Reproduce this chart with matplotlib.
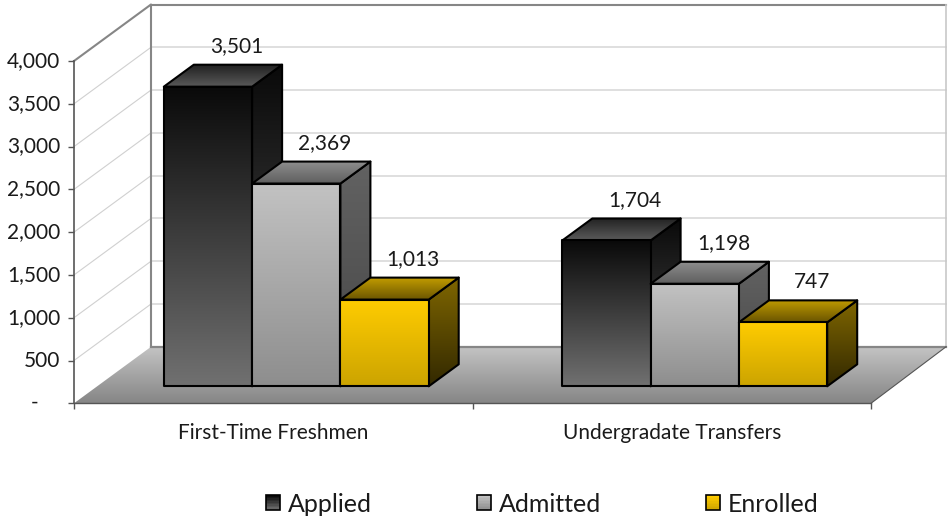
import numpy as np
import matplotlib
matplotlib.use('Agg')
import matplotlib.pyplot as plt
from matplotlib.colors import to_rgb
from matplotlib.legend_handler import HandlerBase
from matplotlib.patches import Polygon, Rectangle

# Data
categories = ['First-Time Freshmen', 'Undergradate Transfers']
series_names = ['Applied', 'Admitted', 'Enrolled']
applied = [3501, 1704]
admitted = [2369, 1198]
enrolled = [1013, 747]
y_ticks = [0, 500, 1000, 1500, 2000, 2500, 3000, 3500, 4000]
y_labels = ['-    ', '500', '1,000', '1,500', '2,000', '2,500', '3,000', '3,500', '4,000']

# (top, bottom) colours of each face
front_cols = [('#0a0a0a', '#707070'), ('#c2c2c2', '#8e8e8e'), ('#ffcc00', '#cca400')]
top_cols = [('#222222', '#5a5a5a'), ('#8c8c8c', '#5e5e5e'), ('#c09a00', '#6a5500')]
side_cols = [('#0a0a0a', '#505050'), ('#626262', '#464646'), ('#7f6600', '#332900')]

plt.rcParams['font.family'] = ['Lato', 'DejaVu Sans']
plt.rcParams['font.size'] = 15
TXT = '#1a1a1a'

W, H = 948, 519
fig = plt.figure(figsize=(W / 100, H / 100), dpi=100)
ax = fig.add_axes([74 / W, (H - 403.3) / H, 797 / W, 342.3 / H])
ax.patch.set_visible(False)
ax.set_autoscale_on(False)
ax.set_xlim(0, 2)
ax.set_ylim(0, 4000)

# pixel sizes in data units, the chart fakes its depth with these
PX = 2 / 797
PY = 4000 / 342.3
DX, DY = 77 * PX, 56.5 * PY
RIGHT = 2 + 75 * PX


def shade(ax, pts, c_top, c_bot, z):
    pts = np.array(pts)
    poly = Polygon(pts, closed=True, fc='none', ec='none', clip_on=False, zorder=z)
    ax.add_patch(poly)
    t = np.linspace(0, 1, 64)[:, None, None]
    img = (1 - t) * np.array(to_rgb(c_top)) + t * np.array(to_rgb(c_bot))
    ext = (pts[:, 0].min(), pts[:, 0].max(), pts[:, 1].min(), pts[:, 1].max())
    im = ax.imshow(img, extent=ext, aspect='auto', origin='upper', zorder=z,
                   interpolation='bilinear')
    im.set_clip_box(fig.bbox)
    im.set_clip_path(poly)


def outline(ax, pts, z, lw=1.5):
    ax.add_patch(Polygon(pts, closed=True, fc='none', ec='black', lw=lw,
                         joinstyle='round', clip_on=False, zorder=z))


# Walls
for v in y_ticks[1:-1]:
    ax.plot([DX, RIGHT], [v + DY, v + DY], color='#d9d9d9', lw=1.2, zorder=1, clip_on=False)
    ax.plot([0, DX], [v, v + DY], color='#d0d0d0', lw=0.8, zorder=1, clip_on=False)
ax.plot([0, DX, DX], [4000, 4000 + DY, DY], color='#868686', lw=1.5, zorder=1, clip_on=False)
ax.plot([DX, RIGHT], [4000 + DY, 4000 + DY], color='#868686', lw=1.5, zorder=1, clip_on=False)
ax.plot([RIGHT, RIGHT], [DY, 4000 + DY], color='#c8c8c8', lw=1.2, zorder=1, clip_on=False)

# Floor
floor = [(0, 0), (2, 0), (RIGHT, DY), (DX, DY)]
shade(ax, floor, '#c4c4c4', '#868686', 1.5)
ax.plot([DX, RIGHT], [DY, DY], color='#868686', lw=1.6, zorder=1.6, clip_on=False)
ax.plot([2, RIGHT], [0, DY], color='#555555', lw=0.8, zorder=1.6, clip_on=False)

# Bars
bar_w = 88.3 * PX
fx, fy = 23 * PX, 17 * PY   # front face offset from the floor edge
bx, by = 30 * PX, 22 * PY   # bar depth
z = 3
for s, vals in enumerate([applied, admitted, enrolled]):
    for c, v in enumerate(vals):
        x0 = c + 0.5 + fx + (s - 1.5) * bar_w
        x1 = x0 + bar_w
        y0, y1 = fy, v + fy
        front = [(x0, y0), (x1, y0), (x1, y1), (x0, y1)]
        top = [(x0, y1), (x1, y1), (x1 + bx, y1 + by), (x0 + bx, y1 + by)]
        side = [(x1, y0), (x1 + bx, y0 + by), (x1 + bx, y1 + by), (x1, y1)]
        shade(ax, side, side_cols[s][0], side_cols[s][1], z)
        outline(ax, side, z + 0.1)
        shade(ax, top, top_cols[s][0], top_cols[s][1], z + 0.2)
        outline(ax, top, z + 0.3)
        shade(ax, front, front_cols[s][0], front_cols[s][1], z + 0.4)
        outline(ax, front, z + 0.5)
        ax.annotate(f'{v:,}', (x0 + bar_w / 2 + bx, y1 + by), xytext=(-1, 6),
                    textcoords='offset points', ha='center', va='bottom', color=TXT,
                    annotation_clip=False, zorder=20)
        z += 1

# Axes
for name in ['top', 'right']:
    ax.spines[name].set_visible(False)
ax.spines['left'].set_color('#555555')
ax.spines['left'].set_linewidth(1.2)
ax.spines['bottom'].set_color('#555555')
ax.spines['bottom'].set_linewidth(1.0)
ax.set_yticks(y_ticks, y_labels, color=TXT, va='center')
ax.tick_params(axis='y', length=4, width=1, color='#555555', pad=6)
ax.set_xticks([0, 1, 2], ['', '', ''])
ax.tick_params(axis='x', length=4, width=1, color='#555555')
ax.set_xticks([0.5, 1.5], categories, minor=True, color=TXT)
ax.tick_params(axis='x', which='minor', length=0, pad=14.5)


# Legend swatch with the same vertical gradient as the bars
class GradHandler(HandlerBase):
    def create_artists(self, legend, orig, xd, yd, width, height, fontsize, trans):
        c_top, c_bot = orig.grad
        arts = []
        n = 10
        for i in range(n):
            t = i / (n - 1)
            col = (1 - t) * np.array(to_rgb(c_top)) + t * np.array(to_rgb(c_bot))
            arts.append(Rectangle((-xd, -yd + height * (1 - (i + 1) / n)), width, height / n,
                                  fc=col, ec='none', transform=trans))
        arts.append(Rectangle((-xd, -yd), width, height, fc='none', ec='black', lw=1.2,
                              transform=trans))
        return arts


handles = []
for s, name in enumerate(series_names):
    h = Rectangle((0, 0), 1, 1, label=name)
    h.grad = front_cols[s]
    handles.append(h)
fig.legend(handles=handles, loc='center', bbox_to_anchor=(542.5 / W, 1 - 504 / H),
           ncol=3, frameon=False, fontsize=18, labelcolor=TXT,
           handler_map={Rectangle: GradHandler()},
           handlelength=0.56, handleheight=0.56, handletextpad=0.32, columnspacing=4.2)

fig.savefig('out.png', dpi=100)
